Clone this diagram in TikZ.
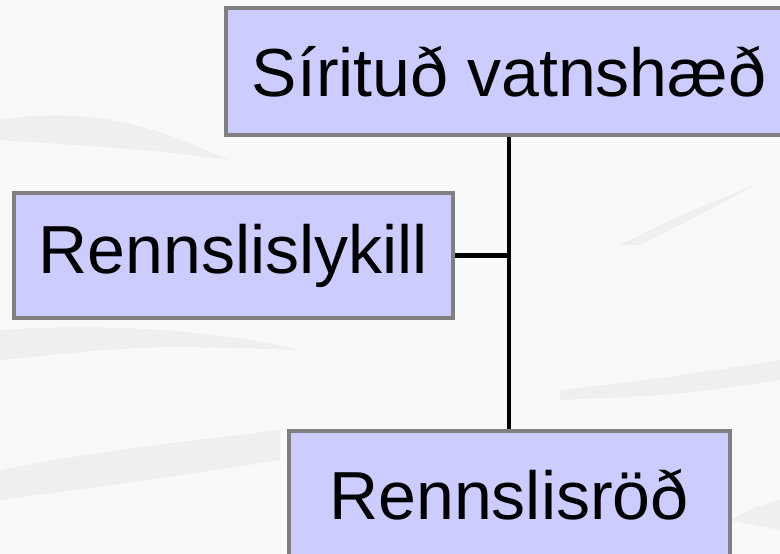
\documentclass[tikz,border=0pt]{standalone}
\usepackage{fontspec}
\setmainfont{Liberation Sans}
\usepackage{xcolor}
\usepackage{tikz}

\definecolor{boxfill}{HTML}{CCCCFF}
\definecolor{boxedge}{HTML}{808080}

\begin{document}
\begin{tikzpicture}[x=1pt, y=-1pt,
        itembox/.style={draw=boxedge, line width=4pt, fill=boxfill, inner sep=0pt,
            font=\fontsize{68}{80}\selectfont, text=black},
        streak/.style={fill=gray!30, opacity=0.3, draw=none},
        link/.style={line width=4.5pt, black}]
        \clip (0,0) rectangle (780,554);
        % background
        \fill[gray!5] (0,0) rectangle (780,554);
        \fill[streak] (0,120) .. controls (120,100) and (200,150) .. (230,160) .. controls (150,150) .. (0,140) -- cycle;
        \fill[streak] (0,330) .. controls (150,320) and (260,340) .. (300,350) .. controls (150,345) .. (0,360) -- cycle;
        \fill[streak] (620,245) .. controls (680,215) .. (755,185) .. controls (700,215) .. (640,245) -- cycle;
        \fill[streak] (560,390) .. controls (650,380) .. (780,360) -- (780,380) .. controls (680,395) .. (560,400) -- cycle;
        \fill[streak] (0,470) .. controls (100,450) and (200,440) .. (280,430) -- (280,460) .. controls (150,480) .. (0,500) -- cycle;
        \fill[streak] (730,520) .. controls (760,505) .. (780,500) -- (780,530) -- cycle;

        % boxes
        \node[itembox, minimum width=566pt, minimum height=127pt] (stage) at (509,71.5) {Sírituð vatnshæð};
        \node[itembox, minimum width=439pt, minimum height=125pt] (rating) at (233.5,255.5) {Rennslislykill};
        \node[itembox, minimum width=441pt, minimum height=127pt] (series) at (509,494.5) {Rennslisröð};

        % connectors
        \coordinate (joint) at (stage.south |- rating.east);
        \draw[link] (stage.south) -- (series.north);
        \draw[link] (rating.east) -- (joint);
    \end{tikzpicture}
\end{document}
